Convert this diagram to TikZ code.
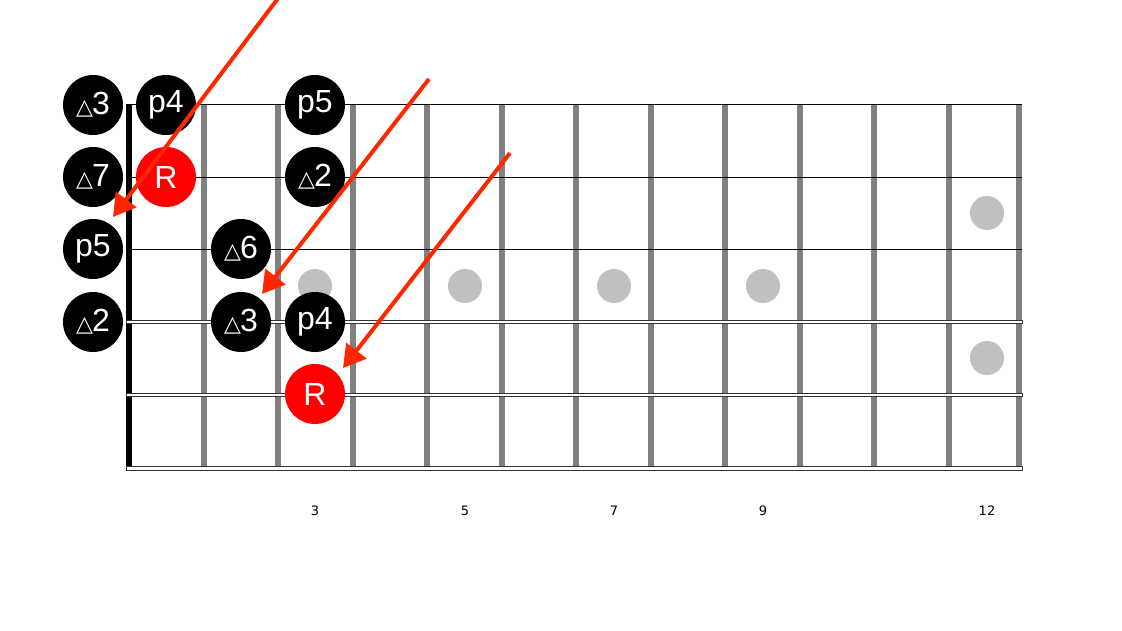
\documentclass[tikz,border=0pt]{standalone}
\usepackage{fontspec}
\setmainfont{Liberation Sans}
\newfontfamily\dejavu{DejaVu Sans}
\usetikzlibrary{arrows.meta}
\definecolor{fretgray}{RGB}{128,128,128}
\definecolor{inlay}{RGB}{192,192,192}
\definecolor{arrowred}{RGB}{255,38,0}
\definecolor{rootred}{RGB}{255,0,0}
\definecolor{strgray}{RGB}{51,51,51}
\newcommand\majtri{{\dejavu\fontsize{22}{22}\selectfont △}\kern-1pt}
\begin{document}
\begin{tikzpicture}[x=1pt,y=-1pt,
  note/.style={circle,fill=black,minimum size=60pt,inner sep=0pt,text=white,font=\fontsize{32}{32}\selectfont},
  root/.style={note,fill=rootred},
  inlaydot/.style={circle,fill=inlay,minimum size=34pt,inner sep=0pt},
  fretbar/.style={draw=fretgray,line width=6pt},
  nutbar/.style={draw=black,line width=6pt},
  plainstring/.style={draw=black,line width=1pt},
  woundstring/.style={draw=strgray,fill=white,line width=0.9pt},
  pointer/.style={draw=arrowred,line width=4pt,-{Triangle[length=22pt,width=25pt]}},
  fretnum/.style={font=\dejavu\fontsize{13}{13}\selectfont}
]
\useasboundingbox (0,0) rectangle (1122,631);
\fill[white] (0,0) rectangle (1122,631);

% frets
\foreach \i in {1,...,11} {
  \draw[fretbar] ({129+74.5*\i},105) -- ({129+74.5*\i},467);
}
\draw[fretbar] (1019,105) -- (1019,467);
% nut
\draw[nutbar] (129,105) -- (129,468);

% strings
\draw[plainstring] (126,105) -- (1022,105);
\draw[plainstring] (126,177.5) -- (1022,177.5);
\draw[plainstring] (126,250) -- (1022,250);
\draw[woundstring] (126,320.7) rectangle (1022,323.5);
\draw[woundstring] (126,393.3) rectangle (1022,396.2);
\draw[woundstring] (126,466.2) rectangle (1022,470.2);

% inlays
\node[inlaydot] (d3) at (315,286) {};
\node[inlaydot] (d5) at (465,286) {};
\node[inlaydot] (d7) at (614,286) {};
\node[inlaydot] (d9) at (763,286) {};
\node[inlaydot] (d12a) at (987,213) {};
\node[inlaydot] (d12b) at (987,358) {};

% fret numbers
\node[fretnum] (n3) at (315,511) {3};
\node[fretnum] (n5) at (465,511) {5};
\node[fretnum] (n7) at (614,511) {7};
\node[fretnum] (n9) at (763,511) {9};
\node[fretnum] (n12) at (987,511) {12};

% notes
\node[note] (a1) at (93,105) {\majtri3};
\node[note] (a2) at (166,105) {p4};
\node[note] (a3) at (315,105) {p5};
\node[note] (b1) at (93,177) {\majtri7};
\node[root] (b2) at (166,177) {R};
\node[note] (b3) at (315,177) {\majtri2};
\node[note] (c1) at (93,249) {p5};
\node[note] (c2) at (241,249) {\majtri6};
\node[note] (e1) at (93,322) {\majtri2};
\node[note] (e2) at (241,322) {\majtri3};
\node[note] (e3) at (315,322) {p4};
\node[root] (f1) at (315,394) {R};

% arrows
\coordinate (s1) at (279,-3);
\coordinate (t1) at (113,217);
\coordinate (s2) at (429,79);
\coordinate (t2) at (262,294);
\coordinate (s3) at (510,153);
\coordinate (t3) at (343,368);
\draw[pointer] (s1) -- (t1);
\draw[pointer] (s2) -- (t2);
\draw[pointer] (s3) -- (t3);
\end{tikzpicture}
\end{document}
